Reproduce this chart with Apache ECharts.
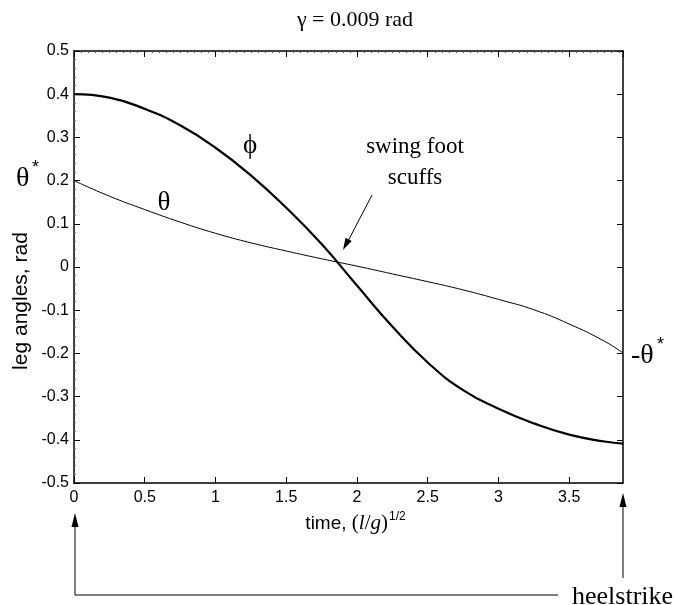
<!DOCTYPE html>
<html>
<head>
<meta charset="utf-8">
<script src="https://cdn.jsdelivr.net/npm/echarts@6/dist/echarts.min.js"></script>
<style>html,body{margin:0;padding:0;background:#fff}#c{width:674px;height:605px}</style>
</head>
<body>
<div id="c"></div>
<script>
// time in units of (l/g)^1/2
const time  = [0, 0.25, 0.5, 0.75, 1.0, 1.25, 1.5, 1.75, 2.0, 2.25, 2.5, 2.75, 3.0, 3.25, 3.5, 3.75, 3.88];
// swing leg angle phi (rad)
const phi   = [0.400, 0.392, 0.366, 0.328, 0.276, 0.212, 0.137, 0.053, -0.043, -0.138, -0.221, -0.285, -0.328, -0.362, -0.388, -0.404, -0.409];
// stance leg angle theta (rad)
const theta = [0.200, 0.164, 0.133, 0.104, 0.078, 0.056, 0.037, 0.019, 0.002, -0.016, -0.034, -0.053, -0.075, -0.099, -0.132, -0.172, -0.199];
const xRange = [0, 3.88];
const yRange = [-0.5, 0.5];

const SANS = '"Liberation Sans", Arial, Helvetica, sans-serif';
const SERIF = '"Liberation Serif", "Times New Roman", serif';

const chart = echarts.init(document.getElementById('c'), null, {renderer: 'canvas'});
const lineStyleAxis = {color: '#000', width: 1.5};
const fmt = v => String(Math.round(v * 10) / 10);

const option = {
  backgroundColor: '#fff',
  animation: false,
  grid: {left: 74, right: 51, top: 51, bottom: 122, containLabel: false},
  xAxis: [
    {
      type: 'value', min: xRange[0], max: xRange[1], interval: 0.5, position: 'bottom',
      axisLine: {show: true, onZero: false, lineStyle: lineStyleAxis},
      axisTick: {show: true, inside: true, length: 6, lineStyle: {color: '#000', width: 1}},
      axisLabel: {show: true, showMaxLabel: false, margin: 7, color: '#000', fontFamily: SANS, fontSize: 16, formatter: fmt},
      splitLine: {show: false},
      name: '{a|time, }{b|(}{c|l}{b|/}{c|g}{b|)}{d|1/2}',
      nameLocation: 'middle', nameGap: 21,
      nameTextStyle: {
        padding: [0, 0, 0, 14],
        rich: {
          a: {fontFamily: SANS, fontSize: 19, color: '#000', lineHeight: 24},
          b: {fontFamily: SERIF, fontSize: 21, color: '#000', lineHeight: 24},
          c: {fontFamily: SERIF, fontStyle: 'italic', fontSize: 21, color: '#000', lineHeight: 24},
          d: {fontFamily: SANS, fontSize: 12, color: '#000', lineHeight: 24, padding: [0, 0, 13, 1]}
        }
      }
    },
    {
      type: 'value', min: xRange[0], max: xRange[1], interval: 0.5, position: 'top',
      axisLine: {show: true, onZero: false, lineStyle: lineStyleAxis},
      axisTick: {show: true, inside: true, length: 6, lineStyle: {color: '#000', width: 1}},
      minorTick: {show: true, splitNumber: 10, length: 2, lineStyle: {color: '#555', width: 1}},
      axisLabel: {show: false},
      splitLine: {show: false}
    }
  ],
  yAxis: [
    {
      type: 'value', min: yRange[0], max: yRange[1], interval: 0.1, position: 'left',
      axisLine: {show: true, onZero: false, lineStyle: lineStyleAxis},
      axisTick: {show: true, inside: true, length: 6, lineStyle: {color: '#000', width: 1}},
      minorTick: {show: true, splitNumber: 5, length: 2, lineStyle: {color: '#777', width: 1}},
      axisLabel: {show: true, margin: 5, color: '#000', fontFamily: SANS, fontSize: 16, formatter: fmt},
      splitLine: {show: false}
    },
    {
      type: 'value', min: yRange[0], max: yRange[1], interval: 0.1, position: 'right',
      axisLine: {show: true, onZero: false, lineStyle: lineStyleAxis},
      axisTick: {show: true, inside: true, length: 6, lineStyle: {color: '#000', width: 1}},
      axisLabel: {show: false},
      splitLine: {show: false}
    }
  ],
  series: [
    {
      name: 'theta', type: 'line', xAxisIndex: 0, yAxisIndex: 0,
      data: time.map((t, i) => [t, theta[i]]),
      smooth: 0.5, showSymbol: false, symbol: 'none',
      lineStyle: {color: '#000', width: 1}
    },
    {
      name: 'phi', type: 'line', xAxisIndex: 0, yAxisIndex: 0,
      data: time.map((t, i) => [t, phi[i]]),
      smooth: 0.5, showSymbol: false, symbol: 'none',
      lineStyle: {color: '#000', width: 2.2}
    }
  ],
  graphic: [
    // title
    {type: 'text', x: 355, y: 20, style: {text: 'γ = 0.009 rad', fontFamily: SERIF, fontSize: 22, fill: '#000', textAlign: 'center', textVerticalAlign: 'middle'}},
    // y axis label
    {type: 'text', x: 21, y: 301, rotation: Math.PI / 2, style: {text: 'leg angles, rad', fontFamily: SANS, fontSize: 21, fill: '#000', textAlign: 'center', textVerticalAlign: 'middle'}},
    // theta* left
    {type: 'text', x: 16, y: 179, style: {text: 'θ', fontFamily: SERIF, fontSize: 28, fill: '#000', textAlign: 'left', textVerticalAlign: 'middle'}},
    {type: 'text', x: 32, y: 168, style: {text: '*', fontFamily: SANS, fontSize: 18, fill: '#000', textAlign: 'left', textVerticalAlign: 'middle'}},
    // -theta* right
    {type: 'text', x: 631, y: 356, style: {text: '-θ', fontFamily: SERIF, fontSize: 28, fill: '#000', textAlign: 'left', textVerticalAlign: 'middle'}},
    {type: 'text', x: 657, y: 345, style: {text: '*', fontFamily: SANS, fontSize: 18, fill: '#000', textAlign: 'left', textVerticalAlign: 'middle'}},
    // curve labels
    {type: 'text', x: 164, y: 203, style: {text: 'θ', fontFamily: SERIF, fontSize: 27, fill: '#000', textAlign: 'center', textVerticalAlign: 'middle'}},
    {type: 'text', x: 250, y: 146, style: {text: 'ϕ', fontFamily: SERIF, fontSize: 27, fill: '#000', textAlign: 'center', textVerticalAlign: 'middle'}},
    // swing foot scuffs
    {type: 'text', x: 415, y: 147, style: {text: 'swing foot', fontFamily: SERIF, fontSize: 23, fill: '#000', textAlign: 'center', textVerticalAlign: 'middle'}},
    {type: 'text', x: 415, y: 178, style: {text: 'scuffs', fontFamily: SERIF, fontSize: 23, fill: '#000', textAlign: 'center', textVerticalAlign: 'middle'}},
    {type: 'line', shape: {x1: 372, y1: 195, x2: 347, y2: 243}, style: {stroke: '#000', lineWidth: 1}},
    {type: 'polygon', shape: {points: [[343, 250], [351.7, 241.0], [345.5, 237.8]]}, style: {fill: '#000'}},
    // heelstrike arrows
    {type: 'polyline', shape: {points: [[558, 595], [75, 595], [75, 520]]}, style: {stroke: '#000', lineWidth: 1, fill: null}},
    {type: 'polygon', shape: {points: [[75, 513], [78.5, 527], [71.5, 527]]}, style: {fill: '#000'}},
    {type: 'line', shape: {x1: 623, y1: 578, x2: 623, y2: 500}, style: {stroke: '#000', lineWidth: 1}},
    {type: 'polygon', shape: {points: [[623, 493], [626.5, 507], [619.5, 507]]}, style: {fill: '#000'}},
    {type: 'text', x: 572, y: 597, style: {text: 'heelstrike', fontFamily: SERIF, fontSize: 26, fill: '#000', textAlign: 'left', textVerticalAlign: 'middle'}}
  ]
};
chart.setOption(option);
</script>
</body>
</html>
